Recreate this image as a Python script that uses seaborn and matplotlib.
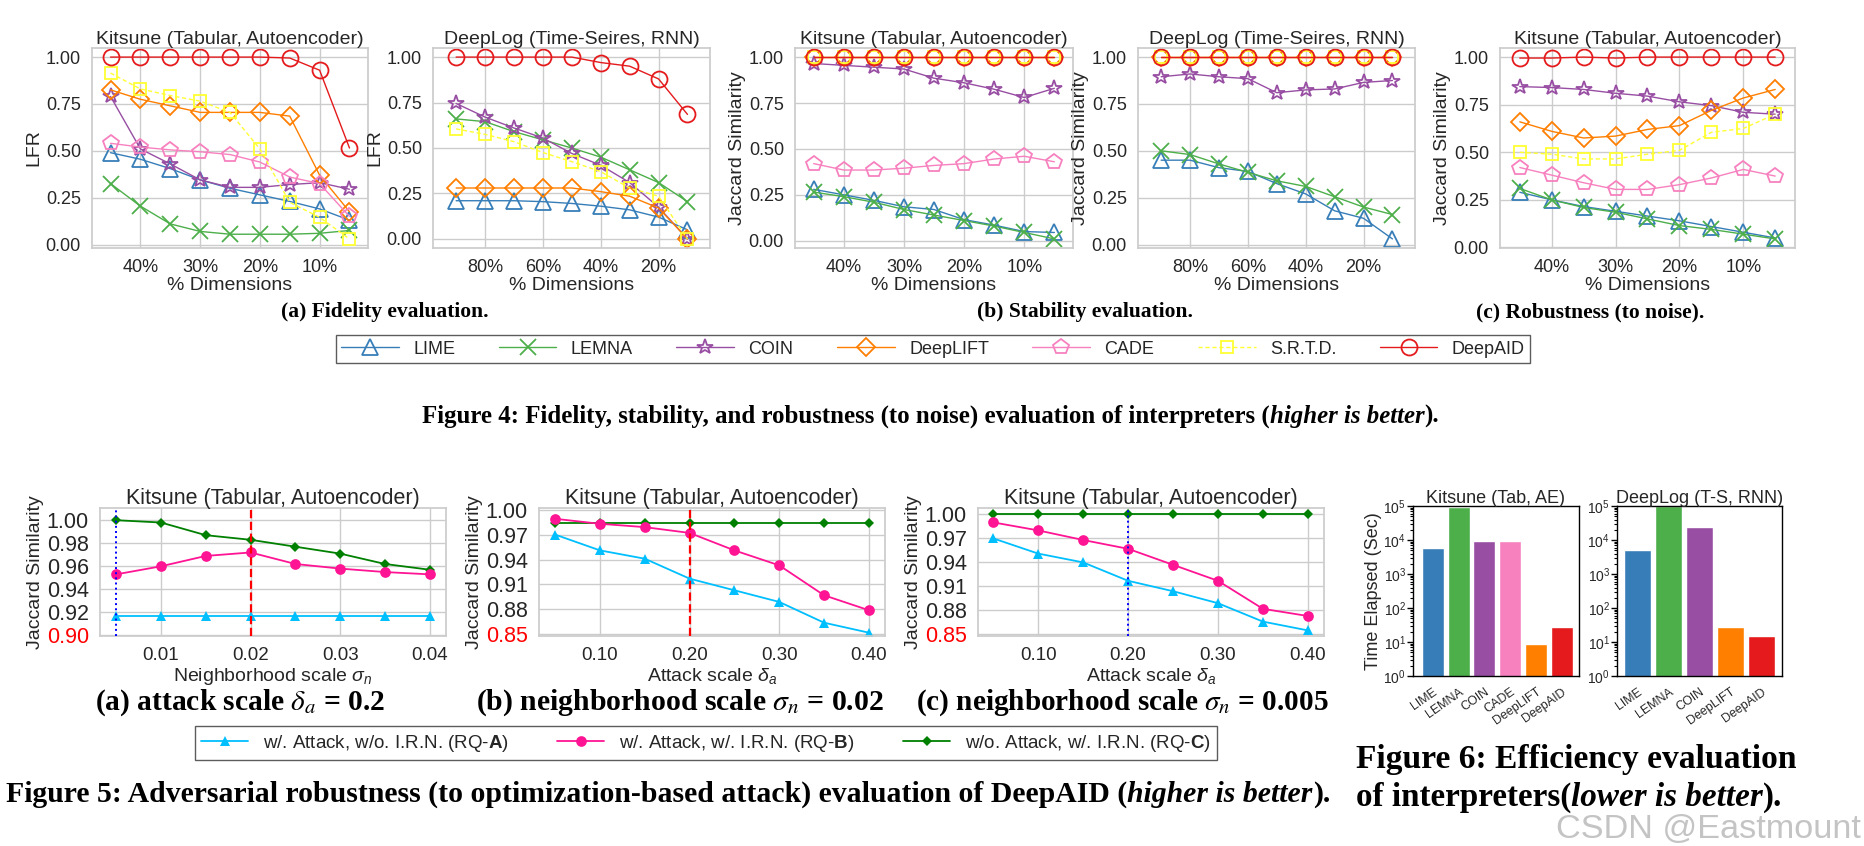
import matplotlib
matplotlib.use("Agg")
import matplotlib.pyplot as plt
import seaborn as sns
from matplotlib.ticker import FormatStrFormatter, LogLocator, NullFormatter

W, H = 1865, 846

# ---------------- data ----------------
methods = ["LIME", "LEMNA", "COIN", "DeepLIFT", "CADE", "S.R.T.D.", "DeepAID"]
methods_ts = ["LIME", "LEMNA", "COIN", "DeepLIFT", "S.R.T.D.", "DeepAID"]

dims_kitsune = [45, 40, 35, 30, 25, 20, 15, 10, 5]
dims_deeplog = [90, 80, 70, 60, 50, 40, 30, 20, 10]
kitsune_ticks = [40, 30, 20, 10]
kitsune_ticklabels = ["40%", "30%", "20%", "10%"]
deeplog_ticks = [80, 60, 40, 20]
deeplog_ticklabels = ["80%", "60%", "40%", "20%"]

# (a) fidelity, LFR -- rows follow `methods` / `methods_ts`
fid_kitsune = [
    [0.49, 0.455, 0.405, 0.345, 0.30, 0.265, 0.23, 0.19, 0.13],
    [0.325, 0.205, 0.11, 0.07, 0.055, 0.055, 0.055, 0.06, 0.075],
    [0.79, 0.51, 0.43, 0.345, 0.305, 0.305, 0.32, 0.33, 0.295],
    [0.825, 0.775, 0.74, 0.705, 0.705, 0.705, 0.685, 0.37, 0.175],
    [0.54, 0.52, 0.505, 0.495, 0.48, 0.44, 0.36, 0.325, 0.15],
    [0.915, 0.83, 0.795, 0.765, 0.705, 0.51, 0.225, 0.145, 0.03],
    [1.0, 1.0, 1.0, 1.0, 1.0, 1.0, 0.995, 0.93, 0.515],
]
fid_deeplog = [
    [0.21, 0.21, 0.21, 0.205, 0.195, 0.18, 0.16, 0.12, 0.05],
    [0.66, 0.645, 0.59, 0.545, 0.50, 0.45, 0.38, 0.31, 0.205],
    [0.745, 0.67, 0.61, 0.555, 0.47, 0.405, 0.31, 0.175, 0.0],
    [0.28, 0.28, 0.28, 0.28, 0.28, 0.26, 0.235, 0.17, 0.0],
    [0.605, 0.575, 0.535, 0.475, 0.425, 0.37, 0.28, 0.235, 0.0],
    [1.0, 1.0, 1.0, 1.0, 1.0, 0.97, 0.95, 0.88, 0.685],
]
# (b) stability, Jaccard
stab_kitsune = [
    [0.28, 0.25, 0.22, 0.185, 0.17, 0.115, 0.085, 0.05, 0.045],
    [0.265, 0.24, 0.21, 0.17, 0.14, 0.11, 0.08, 0.045, 0.01],
    [0.965, 0.955, 0.945, 0.935, 0.885, 0.86, 0.825, 0.78, 0.83],
    [1.0, 1.0, 1.0, 1.0, 1.0, 1.0, 1.0, 1.0, 1.0],
    [0.42, 0.385, 0.385, 0.395, 0.41, 0.42, 0.445, 0.46, 0.43],
    [1.0, 1.0, 1.0, 1.0, 1.0, 1.0, 1.0, 1.0, 1.0],
    [1.0, 1.0, 1.0, 1.0, 1.0, 1.0, 1.0, 1.0, 1.0],
]
stab_deeplog = [
    [0.45, 0.45, 0.41, 0.39, 0.325, 0.27, 0.18, 0.14, 0.03],
    [0.50, 0.48, 0.43, 0.385, 0.34, 0.31, 0.255, 0.20, 0.16],
    [0.895, 0.91, 0.895, 0.885, 0.81, 0.825, 0.83, 0.865, 0.875],
    [1.0, 1.0, 1.0, 1.0, 1.0, 1.0, 1.0, 1.0, 1.0],
    [1.0, 1.0, 1.0, 1.0, 1.0, 1.0, 1.0, 1.0, 1.0],
    [1.0, 1.0, 1.0, 1.0, 1.0, 1.0, 1.0, 1.0, 1.0],
]
# (c) robustness to noise, Jaccard
rob_kitsune = [
    [0.29, 0.25, 0.215, 0.19, 0.165, 0.14, 0.11, 0.08, 0.05],
    [0.31, 0.25, 0.21, 0.185, 0.15, 0.115, 0.095, 0.07, 0.045],
    [0.845, 0.84, 0.83, 0.81, 0.795, 0.765, 0.745, 0.71, 0.70],
    [0.66, 0.61, 0.575, 0.585, 0.62, 0.64, 0.72, 0.785, 0.83],
    [0.42, 0.38, 0.34, 0.305, 0.305, 0.33, 0.365, 0.41, 0.375],
    [0.50, 0.49, 0.465, 0.465, 0.49, 0.51, 0.605, 0.625, 0.70],
    [0.995, 0.995, 1.0, 0.995, 1.0, 1.0, 1.0, 1.0, 1.0],
]

# Figure 5: adversarial robustness
sigma_n = [0.005, 0.01, 0.015, 0.02, 0.025, 0.03, 0.035, 0.04]
delta_a = [0.05, 0.10, 0.15, 0.20, 0.25, 0.30, 0.35, 0.40]
adv_a_rqa = [0.917, 0.917, 0.917, 0.917, 0.917, 0.917, 0.917, 0.917]
adv_a_rqb = [0.953, 0.960, 0.969, 0.972, 0.962, 0.958, 0.955, 0.953]
adv_a_rqc = [1.000, 0.998, 0.987, 0.983, 0.977, 0.971, 0.962, 0.957]
adv_b_rqa = [0.970, 0.951, 0.941, 0.917, 0.903, 0.889, 0.864, 0.852]
adv_b_rqb = [0.989, 0.983, 0.979, 0.972, 0.951, 0.933, 0.897, 0.879]
adv_b_rqc = [0.984, 0.984, 0.984, 0.984, 0.984, 0.984, 0.984, 0.984]
adv_c_rqa = [0.969, 0.950, 0.939, 0.916, 0.903, 0.888, 0.865, 0.854]
adv_c_rqb = [0.989, 0.979, 0.967, 0.956, 0.936, 0.916, 0.881, 0.872]
adv_c_rqc = [1.0, 1.0, 1.0, 1.0, 1.0, 1.0, 1.0, 1.0]
rq_labels = ["w/. Attack, w/o. I.R.N. (RQ-$\\mathbf{A}$)",
             "w/. Attack, w/. I.R.N. (RQ-$\\mathbf{B}$)",
             "w/o. Attack, w/. I.R.N. (RQ-$\\mathbf{C}$)"]

# Figure 6: time elapsed (sec)
kit_methods = ["LIME", "LEMNA", "COIN", "CADE", "DeepLIFT", "DeepAID"]
kit_time = [6000, 95000, 9400, 9400, 8.7, 27]
dl_methods = ["LIME", "LEMNA", "COIN", "DeepLIFT", "DeepAID"]
dl_time = [5100, 100000, 24000, 27, 14.8]

# ---------------- style ----------------
STYLE = {
    "LIME": ("#377eb8", "^", 11.5),
    "LEMNA": ("#4daf4a", "x", 11),
    "COIN": ("#984ea3", "*", 11.5),
    "DeepLIFT": ("#ff7f00", "D", 9.3),
    "CADE": ("#f781bf", "p", 11.5),
    "S.R.T.D.": ("#ffff33", "s", 9.3),
    "DeepAID": ("#e41a1c", "o", 11.5),
}

sns.set_theme(style="whitegrid")
plt.rcParams["font.family"] = ["Liberation Sans", "DejaVu Sans"]
plt.rcParams["mathtext.fontset"] = "custom"
plt.rcParams["mathtext.rm"] = "Liberation Sans"
plt.rcParams["mathtext.it"] = "Liberation Sans:italic"
plt.rcParams["mathtext.bf"] = "Liberation Sans:bold"

fig = plt.figure(figsize=(W / 100, H / 100), dpi=100)
renderer = fig.canvas.get_renderer()


def px_axes(x0, y0, x1, y1):
    return fig.add_axes([x0 / W, 1 - y1 / H, (x1 - x0) / W, (y1 - y0) / H])


def draw_interpreters(ax, x, rows, names, title, ylabel, ticks, ticklabels, xlim):
    for name, vals in zip(names, rows):
        color, marker, ms = STYLE[name]
        sns.lineplot(x=x, y=vals, ax=ax, color=color, marker=marker, markersize=ms,
                     markerfacecolor="none", markeredgecolor=color, markeredgewidth=1.3,
                     linewidth=1.0, linestyle=(0, (3, 2)) if name == "S.R.T.D." else "-",
                     label=name, legend=False, sort=False, errorbar=None)
    ax.set_xlim(*xlim)
    ax.set_xticks(ticks)
    ax.set_xticklabels(ticklabels)
    ax.set_yticks([0, 0.25, 0.5, 0.75, 1.0])
    ax.yaxis.set_major_formatter(FormatStrFormatter("%.2f"))
    ax.tick_params(labelsize=13, pad=2)
    ax.set_title(title, fontsize=14, pad=3)
    ax.set_ylabel(ylabel, fontsize=14, labelpad=2)
    ax.set_xlabel("% Dimensions", fontsize=14, labelpad=1)


def draw_attack(ax, x, rqa, rqb, rqc, xlabel, xticks, yticks, xlim, ylim):
    sns.lineplot(x=x, y=rqa, ax=ax, color="deepskyblue", marker="^", markersize=7.5,
                 markeredgewidth=0, linewidth=1.3, label=rq_labels[0], legend=False)
    sns.lineplot(x=x, y=rqb, ax=ax, color="deeppink", marker="o", markersize=7.7,
                 markeredgewidth=0, linewidth=1.3, label=rq_labels[1], legend=False,
                 zorder=2.6)
    sns.lineplot(x=x, y=rqc, ax=ax, color="green", marker="D", markersize=5.5,
                 markeredgewidth=0, linewidth=1.3, label=rq_labels[2], legend=False)
    ax.set_xlim(*xlim)
    ax.set_ylim(*ylim)
    ax.set_xticks(xticks)
    ax.set_yticks(yticks)
    ax.xaxis.set_major_formatter(FormatStrFormatter("%.2f"))
    ax.yaxis.set_major_formatter(FormatStrFormatter("%.2f"))
    ax.tick_params(axis="x", labelsize=13.5, pad=2)
    ax.tick_params(axis="y", labelsize=15.5, pad=2)
    ax.yaxis.get_major_ticks()[0].label1.set_color("red")
    ax.set_title("Kitsune (Tabular, Autoencoder)", fontsize=15.5, pad=3)
    ax.set_ylabel("Jaccard Similarity", fontsize=14, labelpad=2)
    ax.set_xlabel(xlabel, fontsize=14, labelpad=1.5)


def draw_time(ax, names, times, title, xlim, ylabel=""):
    sns.barplot(x=names, y=times, hue=names, palette=[STYLE[n][0] for n in names],
                legend=False, saturation=1, width=0.86, ax=ax)
    ax.set_yscale("log")
    ax.set_ylim(1, 1e5)
    ax.set_xlim(*xlim)
    ax.set_facecolor("white")
    ax.grid(False)
    for sp in ax.spines.values():
        sp.set_edgecolor("black")
        sp.set_linewidth(1.0)
    ax.yaxis.set_major_locator(LogLocator(base=10, numticks=10))
    ax.yaxis.set_minor_locator(LogLocator(base=10, subs=range(2, 10), numticks=10))
    ax.yaxis.set_minor_formatter(NullFormatter())
    ax.tick_params(axis="y", which="major", left=True, length=4, width=1, color="black",
                   labelsize=10, pad=1)
    ax.tick_params(axis="y", which="minor", left=True, length=2, width=0.8, color="black")
    ax.tick_params(axis="x", labelsize=9, pad=1)
    for lab in ax.get_xticklabels():
        lab.set_rotation(35)
        lab.set_ha("right")
        lab.set_rotation_mode("anchor")
    ax.set_title(title, fontsize=13, pad=2)
    ax.set_xlabel("")
    ax.set_ylabel(ylabel, fontsize=13, labelpad=1)


def rich(parts, y, x0=None, x1=None, size=None, center=None, family="Liberation Serif",
         weight="bold", color="black"):
    """Place text segments (text, fontstyle) side by side on one baseline."""
    texts = [fig.text(0, 1 - y / H, s, fontsize=10, fontweight=weight, fontstyle=st,
                      family=family, math_fontfamily="stix", va="baseline", color=color)
             for s, st in parts]
    total = sum(t.get_window_extent(renderer).width for t in texts)
    if size is None:
        size = 10 * (x1 - x0) / total
    for t in texts:
        t.set_fontsize(size)
    total = sum(t.get_window_extent(renderer).width for t in texts)
    x = x0 if center is None else center - total / 2
    for t in texts:
        t.set_x(x / W)
        x += t.get_window_extent(renderer).width


# ---------------- Figure 4 ----------------
ax1 = px_axes(92, 48, 368, 248)
draw_interpreters(ax1, dims_kitsune, fid_kitsune, methods, "Kitsune (Tabular, Autoencoder)",
                  "LFR", kitsune_ticks, kitsune_ticklabels, (48.1, 1.9))
ax2 = px_axes(433, 48, 710, 248)
draw_interpreters(ax2, dims_deeplog, fid_deeplog, methods_ts, "DeepLog (Time-Seires, RNN)",
                  "LFR", deeplog_ticks, deeplog_ticklabels, (98, 2.2))
ax3 = px_axes(795, 48, 1073, 248)
draw_interpreters(ax3, dims_kitsune, stab_kitsune, methods, "Kitsune (Tabular, Autoencoder)",
                  "Jaccard Similarity", kitsune_ticks, kitsune_ticklabels, (48.1, 1.9))
ax4 = px_axes(1138, 48, 1415, 248)
draw_interpreters(ax4, dims_deeplog, stab_deeplog, methods_ts, "DeepLog (Time-Seires, RNN)",
                  "Jaccard Similarity", deeplog_ticks, deeplog_ticklabels, (98, 2.2))
ax5 = px_axes(1500, 48, 1795, 248)
draw_interpreters(ax5, dims_kitsune, rob_kitsune, methods, "Kitsune (Tabular, Autoencoder)",
                  "Jaccard Similarity", kitsune_ticks, kitsune_ticklabels, (48.1, 1.9))

handles, labels = ax1.get_legend_handles_labels()
leg = fig.legend(handles, labels, loc="center", bbox_to_anchor=(933 / W, 1 - 349 / H),
                 ncol=7, fontsize=13, frameon=True, fancybox=False, edgecolor="0.2",
                 handlelength=3.2, columnspacing=2.4, borderpad=0.3, handletextpad=0.8)
leg.get_frame().set_linewidth(1.0)

rich([("(a) Fidelity evaluation.", "normal")], 317, size=15.5, center=385)
rich([("(b) Stability evaluation.", "normal")], 317, size=15.5, center=1085)
rich([("(c) Robustness (to noise).", "normal")], 317, size=15.5, center=1590)
rich([("Figure 4: Fidelity, stability, and robustness (to noise) evaluation of interpreters (", "normal"),
      ("higher is better", "italic"), (").", "normal")], 423, x0=422, x1=1441)

# ---------------- Figure 5 ----------------
bx1 = px_axes(100, 508, 446, 636)
draw_attack(bx1, sigma_n, adv_a_rqa, adv_a_rqb, adv_a_rqc, "Neighborhood scale $\\sigma_n$",
            [0.01, 0.02, 0.03, 0.04], [0.90, 0.92, 0.94, 0.96, 0.98, 1.00],
            (0.0032, 0.0418), (0.8995, 1.0106))
bx1.axvline(0.005, color="blue", linestyle=":", linewidth=1.4, zorder=3)
bx1.axvline(0.02, color="red", linestyle="--", linewidth=1.6, zorder=3)

bx2 = px_axes(539, 508, 885, 636)
draw_attack(bx2, delta_a, adv_b_rqa, adv_b_rqb, adv_b_rqc, "Attack scale $\\delta_a$",
            [0.10, 0.20, 0.30, 0.40], [0.85, 0.88, 0.91, 0.94, 0.97, 1.00],
            (0.032, 0.418), (0.848, 1.002))
bx2.axvline(0.20, color="red", linestyle="--", linewidth=1.6, zorder=3)

bx3 = px_axes(978, 508, 1324, 636)
draw_attack(bx3, delta_a, adv_c_rqa, adv_c_rqb, adv_c_rqc, "Attack scale $\\delta_a$",
            [0.10, 0.20, 0.30, 0.40], [0.85, 0.88, 0.91, 0.94, 0.97, 1.00],
            (0.033, 0.418), (0.847, 1.007))
bx3.axvline(0.20, color="blue", linestyle=":", linewidth=1.4, zorder=3)

h5, l5 = bx1.get_legend_handles_labels()
leg5 = fig.legend(h5, l5, loc="center", bbox_to_anchor=(706 / W, 1 - 743 / H), ncol=3,
                  fontsize=13.5, frameon=True, fancybox=False, edgecolor="0.2",
                  handlelength=2.5, columnspacing=2.6, borderpad=0.35, handletextpad=0.8)
leg5.get_frame().set_linewidth(1.0)

rich([("(a) attack scale $\\delta_a$ = 0.2", "normal")], 710, x0=95, x1=387)
rich([("(b) neighborhood scale $\\sigma_n$ = 0.02", "normal")], 710, x0=476, x1=886)
rich([("(c) neighborhood scale $\\sigma_n$ = 0.005", "normal")], 710, x0=916, x1=1330)
rich([("Figure 5: Adversarial robustness (to optimization-based attack) evaluation of DeepAID (", "normal"),
      ("higher is better", "italic"), (").", "normal")], 802, x0=6, x1=1330)

# ---------------- Figure 6 ----------------
cx1 = px_axes(1413, 506, 1579, 676)
draw_time(cx1, kit_methods, kit_time, "Kitsune (Tab, AE)", (-0.77, 5.67), "Time Elapsed (Sec)")
cx2 = px_axes(1617, 506, 1782, 676)
draw_time(cx2, dl_methods, dl_time, "DeepLog (T-S, RNN)", (-0.66, 4.66))

rich([("Figure 6: Efficiency evaluation", "normal")], 768, x0=1356, x1=1798)
rich([("of interpreters(", "normal"), ("lower is better", "italic"), (").", "normal")],
     806, x0=1356, x1=1784)

rich([("CSDN @Eastmount", "normal")], 838, x0=1556, x1=1861, family="Liberation Sans",
     weight="normal", color="#c4c4c4")

fig.savefig("out.png", dpi=100)
